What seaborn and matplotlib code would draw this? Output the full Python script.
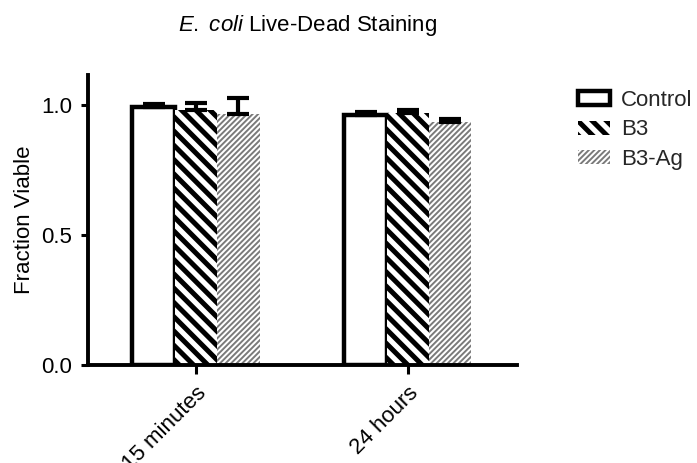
import numpy as np
import pandas as pd
import matplotlib
matplotlib.use('Agg')
import matplotlib.pyplot as plt
import matplotlib.patches as mpatches
from matplotlib.backend_bases import GraphicsContextBase
import seaborn as sns

# ---- data ----
times = ['15 minutes', '24 hours']
groups = ['Control', 'B3', 'B3-Ag']
control_mean = [0.992, 0.960]
control_err = [0.012, 0.013]
b3_mean = [0.981, 0.970]
b3_err = [0.027, 0.010]
b3ag_mean = [0.965, 0.936]
b3ag_err = [0.062, 0.010]
yticks = [0.0, 0.5, 1.0]
ytick_labels = ['0.0', '0.5', '1.0']
title_text = r'$\it{E.}$ $\it{coli}$ Live-Dead Staining'
ylabel_text = 'Fraction Viable'

# hatch density per pattern (stripe spacing styling; even counts tile seamlessly)
HATCH_DENSITY = {'\\': 14, '/': 36}
_orig_ghp = GraphicsContextBase.get_hatch_path


def _ghp(self, density=6.0):
    return _orig_ghp(self, HATCH_DENSITY.get(self.get_hatch(), density))


GraphicsContextBase.get_hatch_path = _ghp

sns.set_theme(style='ticks')
plt.rcParams['font.family'] = ['Liberation Sans', 'DejaVu Sans']
plt.rcParams['mathtext.fontset'] = 'custom'
plt.rcParams['mathtext.it'] = 'Liberation Sans:italic'
plt.rcParams['mathtext.rm'] = 'Liberation Sans'

df = pd.DataFrame({
    'time': times * 3,
    'group': [g for g in groups for _ in times],
    'value': control_mean + b3_mean + b3ag_mean,
})
errs = {'Control': control_err, 'B3': b3_err, 'B3-Ag': b3ag_err}
means = {'Control': control_mean, 'B3': b3_mean, 'B3-Ag': b3ag_mean}

styles = {
    'Control': dict(facecolor='white', edgecolor='black', linewidth=3.2, hatch=None, hlw=1.0),
    'B3': dict(facecolor='white', edgecolor='black', linewidth=0, hatch='\\', hlw=3.6),
    'B3-Ag': dict(facecolor='white', edgecolor='#7a7a7a', linewidth=0, hatch='/', hlw=1.4),
}


def set_hlw(p, w):
    if hasattr(p, 'set_hatch_linewidth'):
        p.set_hatch_linewidth(w)
    else:
        p._hatch_linewidth = w


def style_patch(p, st):
    p.set_facecolor(st['facecolor'])
    p.set_edgecolor(st['edgecolor'])
    p.set_linewidth(st['linewidth'])
    p.set_hatch(st['hatch'])
    set_hlw(p, st['hlw'])


fig = plt.figure(figsize=(6.97, 4.63), dpi=100)
ax = fig.add_axes([88 / 697, 1 - 365 / 463, (517 - 88) / 697, (365 - 75) / 463])

sns.barplot(data=df, x='time', y='value', hue='group', order=times, hue_order=groups,
            width=0.6, errorbar=None, ax=ax, legend=False, saturation=1,
            palette={g: 'white' for g in groups})

for g, cont in zip(groups, ax.containers):
    for p in cont:
        style_patch(p, styles[g])
    xs = [p.get_x() + p.get_width() / 2 for p in cont]
    e = errs[g]
    ax.errorbar(xs, means[g], yerr=[np.zeros(len(e)), e], fmt='none', ecolor='black',
                elinewidth=3, capsize=8, capthick=3, zorder=3)

ax.set_xlim(-0.51, 1.515)
ax.set_ylim(0, 1.115)
ax.set_yticks(yticks)
ax.set_yticklabels(ytick_labels)
ax.set_xlabel('')
sns.despine(ax=ax)
for s in ['left', 'bottom']:
    ax.spines[s].set_linewidth(2.8)
    ax.spines[s].set_color('black')
ax.tick_params(axis='y', length=5, width=2.2, pad=6.5, labelsize=16, color='black', labelcolor='black')
ax.tick_params(axis='x', length=6.5, width=2.2, pad=6, labelsize=16, color='black', labelcolor='black')
for lab in ax.get_xticklabels():
    lab.set_rotation(45)
    lab.set_ha('right')
    lab.set_va('top')
    lab.set_rotation_mode('anchor')

ax.set_ylabel(ylabel_text, fontsize=16, color='black')
ax.yaxis.set_label_coords((24.5 - 88) / 429, 0.5)
ax.yaxis.label.set_va('center')

ax.set_title(title_text, fontsize=16, x=(308 - 88) / 429, y=1 + (75 - 30.7) / 290, pad=0, color='black')

handles = [mpatches.Patch(facecolor=styles[g]['facecolor'], edgecolor=styles[g]['edgecolor'],
                          linewidth=styles[g]['linewidth'], hatch=styles[g]['hatch']) for g in groups]
leg = fig.legend(handles, groups, loc='upper left', bbox_to_anchor=(578 / 697, 1 - 90 / 463),
                 frameon=False, fontsize=16, borderpad=0, borderaxespad=0,
                 handlelength=1.45, handleheight=0.6, handletextpad=0.5, labelspacing=0.38)
for p, g in zip(leg.get_patches(), groups):
    style_patch(p, styles[g])

fig.savefig('out.png', dpi=100)
